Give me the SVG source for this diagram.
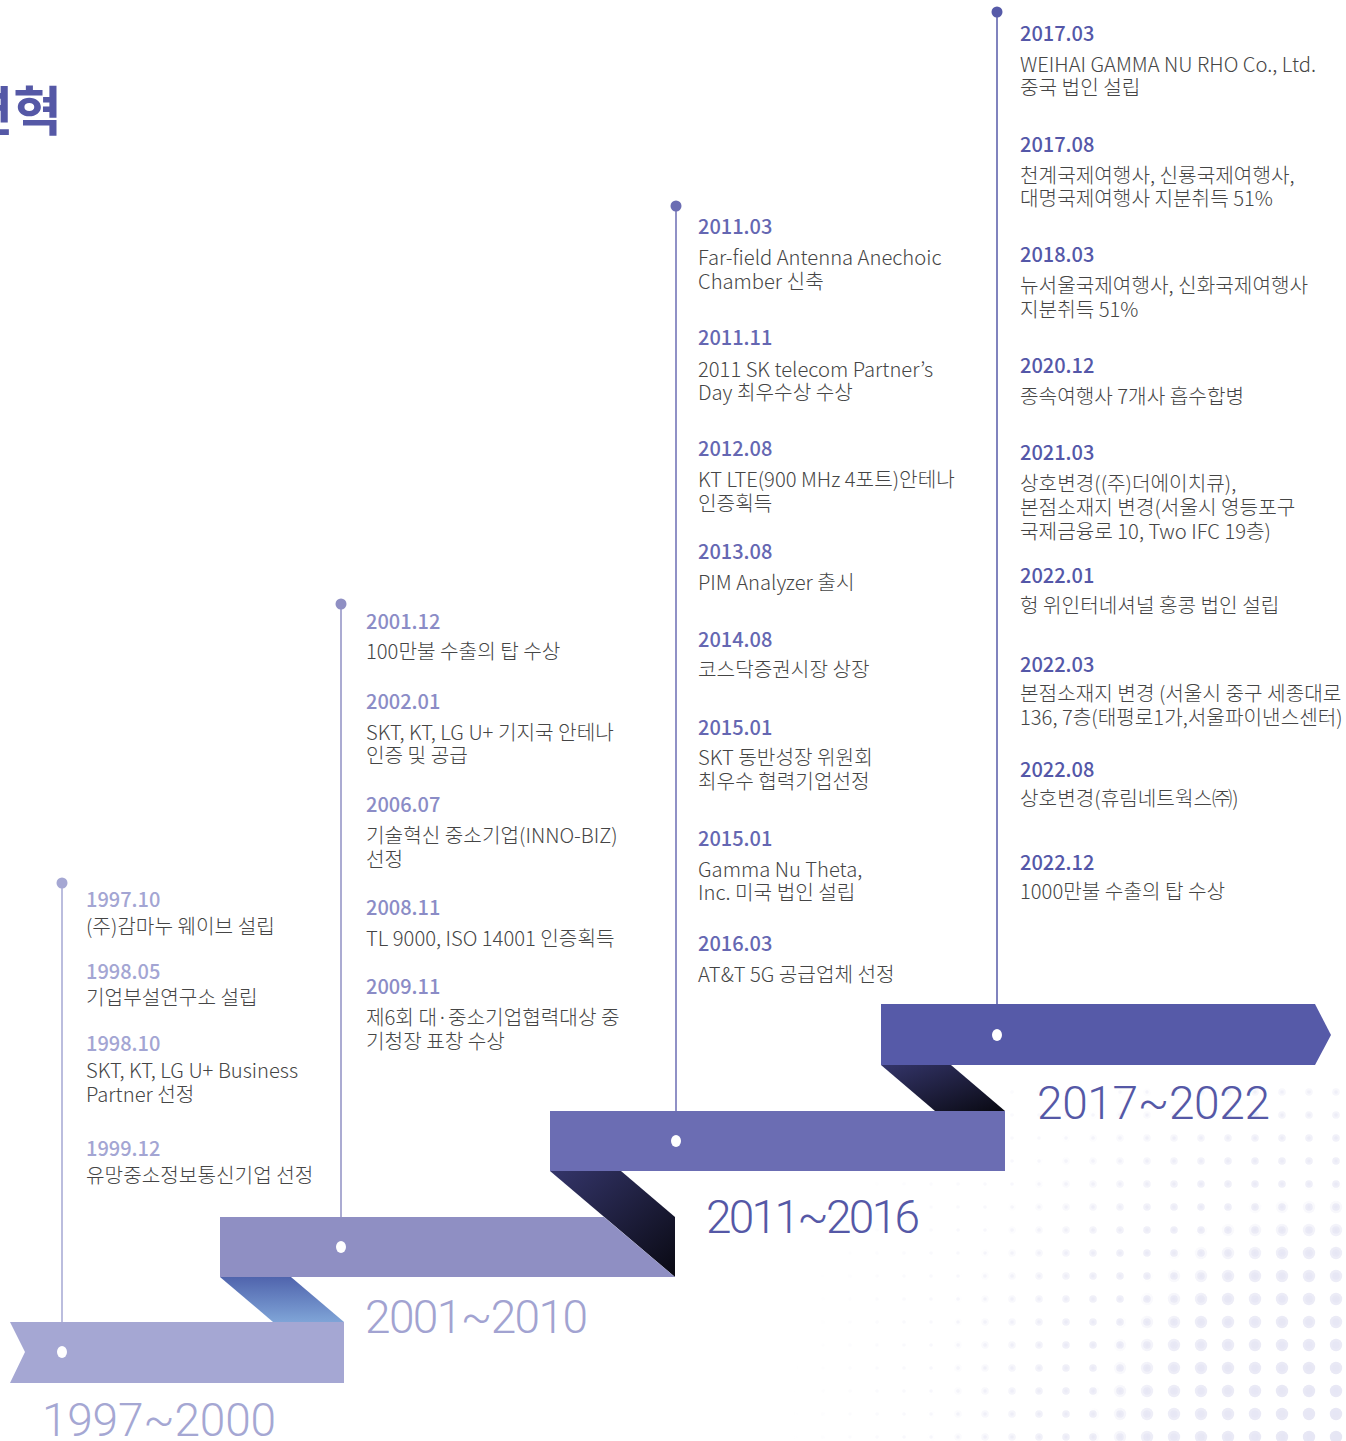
<svg xmlns="http://www.w3.org/2000/svg" width="1346" height="1441" viewBox="0 0 1346 1441">
<style>
.d{font-family:'Noto Sans CJK KR','Noto Sans',sans-serif;font-size:20px;font-weight:500}
.t{font-family:'Noto Sans CJK KR','Noto Sans',sans-serif;font-size:20.2px;font-weight:300;fill:#454545}
.yr{font-family:Roboto,'Liberation Sans',sans-serif;font-size:46px;font-weight:300}
.c1{fill:#a3a5d3}.c2{fill:#8b8cc6}.c3{fill:#6567b2}.c4{fill:#5457a8}
.wd{fill:#ffffff}
</style>
<defs>
<linearGradient id="gBlue" x1="0" y1="0" x2="0" y2="1">
<stop offset="0" stop-color="#5064ad"/><stop offset="1" stop-color="#7fa4d7"/>
</linearGradient>
<linearGradient id="gDark" x1="0" y1="0" x2="1" y2="1">
<stop offset="0" stop-color="#34356a"/><stop offset="1" stop-color="#090912"/>
</linearGradient>
<pattern id="pS" width="27" height="23" patternUnits="userSpaceOnUse"><circle cx="13" cy="11" r="1.8" fill="#e6e6f4"/></pattern>
<pattern id="pM" width="27" height="23" patternUnits="userSpaceOnUse"><circle cx="13" cy="11" r="3.8" fill="#e6e6f4"/></pattern>
<pattern id="pL" width="27" height="23" patternUnits="userSpaceOnUse"><circle cx="13" cy="11" r="6.2" fill="#e6e6f4"/></pattern>
<radialGradient id="mg1" cx="1346" cy="1441" r="560" gradientUnits="userSpaceOnUse">
<stop offset="0" stop-color="#fff"/><stop offset="0.6" stop-color="#fff" stop-opacity="0.5"/><stop offset="1" stop-color="#fff" stop-opacity="0"/>
</radialGradient>
<radialGradient id="mg2" cx="1346" cy="1441" r="420" gradientUnits="userSpaceOnUse">
<stop offset="0" stop-color="#fff"/><stop offset="0.7" stop-color="#fff" stop-opacity="0.6"/><stop offset="1" stop-color="#fff" stop-opacity="0"/>
</radialGradient>
<radialGradient id="mg3" cx="1346" cy="1441" r="260" gradientUnits="userSpaceOnUse">
<stop offset="0" stop-color="#fff"/><stop offset="0.75" stop-color="#fff" stop-opacity="0.7"/><stop offset="1" stop-color="#fff" stop-opacity="0"/>
</radialGradient>
<mask id="m1"><rect x="700" y="1000" width="646" height="441" fill="url(#mg1)"/></mask>
<mask id="m2"><rect x="700" y="1000" width="646" height="441" fill="url(#mg2)"/></mask>
<mask id="m3"><rect x="700" y="1000" width="646" height="441" fill="url(#mg3)"/></mask>
</defs>
<rect width="1346" height="1441" fill="#ffffff"/>
<g id="bg-dots">
<rect x="700" y="1080" width="646" height="361" fill="url(#pS)" mask="url(#m1)"/>
<rect x="700" y="1080" width="646" height="361" fill="url(#pM)" mask="url(#m2)"/>
<rect x="700" y="1080" width="646" height="361" fill="url(#pL)" mask="url(#m3)"/>
</g>
<g id="title">
<text x="62" y="131" text-anchor="end" style="font-family:'Noto Sans CJK KR',sans-serif;font-size:53px;font-weight:700;fill:#5558a6">연혁</text>
</g>
<g id="ribbons">
<polygon points="881,1065 951,1065 1005,1111 935,1111" fill="url(#gDark)"/>
<polygon points="550,1171 621,1171 675,1217 675,1277" fill="url(#gDark)"/>
<polygon points="220,1277 291,1277 344,1322 273,1322" fill="url(#gBlue)"/>
<polygon id="ribbon-1997" points="10,1322 344,1322 344,1383 10,1383 25,1352" fill="#a5a7d3"/>
<polygon id="ribbon-2001" points="220,1217 604,1217 675,1277 220,1277" fill="#8f8fc3"/>
<polygon id="ribbon-2011" points="550,1111 1005,1111 1005,1171 550,1171" fill="#6b6db3"/>
<polygon id="ribbon-2017" points="881,1004 1315,1004 1331,1035 1315,1065 881,1065" fill="#565aa8"/>
<ellipse cx="62" cy="1352" rx="5" ry="6" class="wd"/>
<ellipse cx="341" cy="1247" rx="5" ry="6" class="wd"/>
<ellipse cx="676" cy="1141" rx="5" ry="6" class="wd"/>
<ellipse cx="997" cy="1035" rx="5" ry="6" class="wd"/>
</g>
<g id="connectors" stroke-width="1.5">
<line x1="62" y1="883" x2="62" y2="1322" stroke="#a5a7d3"/>
<line x1="341" y1="604" x2="341" y2="1217" stroke="#8f8fc3"/>
<line x1="676" y1="206" x2="676" y2="1111" stroke="#6b6db3"/>
<line x1="997" y1="12" x2="997" y2="1004" stroke="#565aa8"/>
<circle cx="62" cy="883" r="5.5" fill="#a5a7d3" stroke="none"/>
<circle cx="341" cy="604" r="5.5" fill="#8f8fc3" stroke="none"/>
<circle cx="676" cy="206" r="5.5" fill="#6b6db3" stroke="none"/>
<circle cx="997" cy="12" r="5.5" fill="#565aa8" stroke="none"/>
</g>
<g id="era-1997">
<text x="42" y="1436" class="yr" fill="#a5a7d3" textLength="234" lengthAdjust="spacing">1997~2000</text>
<text x="86" y="907" class="d c1">1997.10</text>
<text x="86" y="934" class="t">(주)감마누 웨이브 설립</text>
<text x="86" y="979" class="d c1">1998.05</text>
<text x="86" y="1005" class="t">기업부설연구소 설립</text>
<text x="86" y="1051" class="d c1">1998.10</text>
<text x="86" y="1078" class="t">SKT, KT, LG U+ Business</text>
<text x="86" y="1102" class="t">Partner 선정</text>
<text x="86" y="1156" class="d c1">1999.12</text>
<text x="86" y="1183" class="t">유망중소정보통신기업 선정</text>
</g>
<g id="era-2001">
<text x="365" y="1333" class="yr" fill="#a2a3d1" textLength="223" lengthAdjust="spacing">2001~2010</text>
<text x="366" y="629" class="d c2">2001.12</text>
<text x="366" y="659" class="t">100만불 수출의 탑 수상</text>
<text x="366" y="709" class="d c2">2002.01</text>
<text x="366" y="740" class="t">SKT, KT, LG U+ 기지국 안테나</text>
<text x="366" y="763" class="t">인증 및 공급</text>
<text x="366" y="812" class="d c2">2006.07</text>
<text x="366" y="843" class="t">기술혁신 중소기업(INNO-BIZ)</text>
<text x="366" y="867" class="t">선정</text>
<text x="366" y="915" class="d c2">2008.11</text>
<text x="366" y="946" class="t">TL 9000, ISO 14001 인증획득</text>
<text x="366" y="994" class="d c2">2009.11</text>
<text x="366" y="1025" class="t">제6회 대·중소기업협력대상 중</text>
<text x="366" y="1049" class="t">기청장 표창 수상</text>
</g>
<g id="era-2011">
<text x="706" y="1233" class="yr" fill="#5558a6" textLength="214" lengthAdjust="spacing">2011~2016</text>
<text x="698" y="234" class="d c3">2011.03</text>
<text x="698" y="265" class="t">Far-field Antenna Anechoic</text>
<text x="698" y="289" class="t">Chamber 신축</text>
<text x="698" y="345" class="d c3">2011.11</text>
<text x="698" y="377" class="t">2011 SK telecom Partner’s</text>
<text x="698" y="400" class="t">Day 최우수상 수상</text>
<text x="698" y="456" class="d c3">2012.08</text>
<text x="698" y="487" class="t">KT LTE(900 MHz 4포트)안테나</text>
<text x="698" y="511" class="t">인증획득</text>
<text x="698" y="559" class="d c3">2013.08</text>
<text x="698" y="590" class="t">PIM Analyzer 출시</text>
<text x="698" y="647" class="d c3">2014.08</text>
<text x="698" y="677" class="t">코스닥증권시장 상장</text>
<text x="698" y="735" class="d c3">2015.01</text>
<text x="698" y="765" class="t">SKT 동반성장 위원회</text>
<text x="698" y="789" class="t">최우수 협력기업선정</text>
<text x="698" y="846" class="d c3">2015.01</text>
<text x="698" y="877" class="t">Gamma Nu Theta,</text>
<text x="698" y="900" class="t">Inc. 미국 법인 설립</text>
<text x="698" y="951" class="d c3">2016.03</text>
<text x="698" y="982" class="t">AT&amp;T 5G 공급업체 선정</text>
</g>
<g id="era-2017">
<text x="1037" y="1119" class="yr" fill="#5558a6" textLength="233" lengthAdjust="spacing">2017~2022</text>
<text x="1020" y="41" class="d c4">2017.03</text>
<text x="1020" y="72" class="t">WEIHAI GAMMA NU RHO Co., Ltd.</text>
<text x="1020" y="95" class="t">중국 법인 설립</text>
<text x="1020" y="152" class="d c4">2017.08</text>
<text x="1020" y="183" class="t">천계국제여행사, 신룡국제여행사,</text>
<text x="1020" y="206" class="t">대명국제여행사 지분취득 51%</text>
<text x="1020" y="262" class="d c4">2018.03</text>
<text x="1020" y="293" class="t">뉴서울국제여행사, 신화국제여행사</text>
<text x="1020" y="317" class="t">지분취득 51%</text>
<text x="1020" y="373" class="d c4">2020.12</text>
<text x="1020" y="404" class="t">종속여행사 7개사 흡수합병</text>
<text x="1020" y="460" class="d c4">2021.03</text>
<text x="1020" y="491" class="t">상호변경((주)더에이치큐),</text>
<text x="1020" y="515" class="t">본점소재지 변경(서울시 영등포구</text>
<text x="1020" y="539" class="t">국제금융로 10, Two IFC 19층)</text>
<text x="1020" y="583" class="d c4">2022.01</text>
<text x="1020" y="613" class="t">헝 위인터네셔널 홍콩 법인 설립</text>
<text x="1020" y="672" class="d c4">2022.03</text>
<text x="1020" y="701" class="t">본점소재지 변경 (서울시 중구 세종대로</text>
<text x="1020" y="725" class="t">136, 7층(태평로1가,서울파이낸스센터)</text>
<text x="1020" y="777" class="d c4">2022.08</text>
<text x="1020" y="806" class="t">상호변경(휴림네트웍스㈜)</text>
<text x="1020" y="870" class="d c4">2022.12</text>
<text x="1020" y="899" class="t">1000만불 수출의 탑 수상</text>
</g>
</svg>
